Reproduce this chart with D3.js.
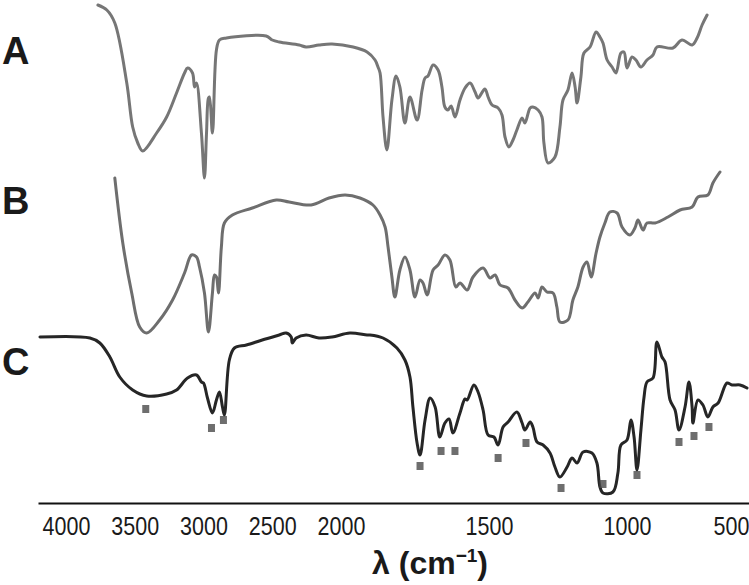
<!DOCTYPE html>
<html>
<head>
<meta charset="utf-8">
<script src="https://cdn.jsdelivr.net/npm/d3@7"></script>
<style>
  body { margin: 0; background: #fff; }
  svg { display: block; font-family: "Liberation Sans", Arial, sans-serif; }
</style>
</head>
<body>
<svg id="root" width="749" height="585"></svg>
<script>
// wavenumber (cm-1) and offset transmittance (a.u.)
const wnA = [3768,3703,3645,3558,3515,3478,3442,3341,3268,3196,3138,3116,3080,3065,3051,3015,2993,2978,2964,2957,2935,2906,2884,2833,2544,2500,2449,2304,2254,2160,2065,
  1959,1912,1885,1875,1868,1858,1845,1828,1814,1801,1784,1767,1743,1726,1716,1706,1689,1672,1659,1649,1639,1628,1615,1598,1581,1564,1547,1537,1514,1503,
  1489,1467,1453,1442,1428,1413,1399,1380,1370,1351,1341,1322,1308,1301,1286,1261,1243,1232,1214,1199,1188,1181,1167,1156,1134,1112,1098,1087,1072,1054,1040,1022,1011,
  1000,976,957,933,904,875,856,779,736,687,663,639,615];
const tA = [99.0,98.0,95.4,83.4,74.6,71.4,69.8,73.4,76.6,81.4,85.4,86.4,85.4,82.6,83.4,73.4,64.4,73.4,80.4,80.6,73.4,90.0,92.0,92.4,92.8,92.0,91.6,91.0,90.6,91.0,91.2,
  90.6,89.6,88.0,86.6,85.4,76.6,70.0,80.0,84.8,82.6,75.4,80.6,76.0,82.0,84.4,84.8,87.0,86.0,82.6,78.6,78.0,78.8,76.6,80.0,82.4,83.4,81.6,80.4,82.2,80.6,
  79.0,78.4,77.0,72.6,70.6,72.0,74.0,76.4,75.4,78.4,78.6,78.0,76.6,71.4,67.4,68.6,74.6,80.0,82.0,85.4,82.6,79.4,84.6,89.4,90.6,93.6,92.6,91.4,88.0,86.6,85.4,89.4,89.6,
  86.4,88.6,88.0,86.6,88.0,89.0,90.6,90.4,92.0,91.0,92.4,95.0,97.0];

const wnB = [3645,3587,3522,3464,3413,3319,3225,3138,3087,3051,3029,2993,2964,2935,2920,2906,2891,2870,2848,2790,2645,2471,2377,2217,2087,
  1986,1936,1892,1868,1851,1841,1828,1818,1801,1784,1767,1750,1733,1723,1709,1689,1672,1649,1632,1612,1598,1574,1554,1520,
  1496,1478,1460,1431,1406,1380,1359,1333,1322,1308,1290,1268,1254,1243,1214,1196,1178,1159,1145,1130,1112,1098,1080,1062,1036,1018,
  986,962,947,923,904,865,803,745,687,659,611,587,553];
const tB = [64.4,51.4,41.4,34.6,33.4,36.0,40.0,45.4,49.0,48.6,46.6,41.4,33.6,41.4,45.0,44.6,41.4,50.6,55.4,57.0,58.4,60.0,59.6,59.0,60.4,
  61.0,60.4,59.0,57.0,54.6,50.6,44.6,40.6,46.0,48.6,46.0,40.6,44.0,43.4,41.0,46.0,47.0,49.0,48.0,42.6,43.4,42.0,44.6,46.4,
  44.4,45.0,43.0,42.4,40.0,38.4,39.6,41.4,40.4,42.6,41.6,41.4,38.6,35.6,36.0,40.0,42.6,46.6,47.6,44.6,49.4,52.6,55.4,57.6,57.4,54.6,
  53.0,54.4,56.0,54.0,55.4,55.4,56.6,58.0,58.6,60.6,61.0,63.4,65.6];

const wnC = [4186,3826,3754,3681,3609,3515,3413,3268,3196,3116,3051,3015,3000,2971,2935,2906,2884,2862,2848,2812,2775,2688,2573,2449,2399,2362,2355,2326,2254,2160,2065,
  1970,1912,1902,1858,1811,1784,1767,1757,1743,1733,1716,1699,1682,1666,1649,1635,1622,1598,1581,1574,1551,1537,1520,1503,
  1482,1467,1449,1431,1399,1380,1370,1351,1341,1326,1304,1279,1261,1243,1217,1199,1181,1159,1127,1109,1098,1087,1051,1033,1022,
  1000,981,966,952,933,918,904,875,856,832,817,793,769,750,721,702,687,683,659,635,611,587,562,519,495,455,420];
const tC = [32.6,32.4,31.4,28.6,24.6,22.0,20.8,21.2,22.0,24.4,25.0,23.6,23.4,20.4,17.4,20.0,21.6,18.6,17.0,28.0,30.4,31.0,32.0,33.0,33.4,32.6,31.4,32.4,33.0,32.4,32.6,
  33.4,33.0,33.0,32.4,30.4,28.0,24.6,18.6,11.4,9.0,16.0,20.4,18.6,12.6,15.4,16.2,13.4,17.4,20.2,20.0,23.0,21.6,18.0,13.0,
  12.6,11.0,14.6,15.6,17.6,15.4,14.0,15.6,14.6,11.6,11.0,9.4,6.6,4.6,6.6,8.4,7.4,9.6,9.4,7.4,2.6,1.4,1.6,5.4,11.0,
  12.0,16.0,12.6,6.0,14.0,20.6,23.6,24.4,31.6,28.6,27.6,20.0,18.0,14.0,18.6,23.6,18.6,15.4,20.0,19.0,16.6,18.6,19.4,23.4,23.0,23.0,22.4];

// peak markers on trace C
const markWn = [3420,2942,2855,1733,1662,1615,1467,1366,1239,1087,952,750,678,606];
const markT = [18.2,14.4,16.0,6.8,9.8,9.8,8.4,11.4,2.4,3.2,5.0,11.6,12.8,14.6];

const seriesNames = ['A', 'B', 'C'];
const labelT = [90, 60, 27.8];
const xTicks = [4000, 3500, 3000, 2500, 2000, 1500, 1000, 500];

const svg = d3.select('#root');

// broken wavenumber axis: expanded below 2000
const x = d3.scaleLinear()
  .domain([4200, 4000, 2000, 1500, 1000, 500, 410])
  .range([38, 66, 341, 489, 627, 731, 749]);
const y = d3.scaleLinear().domain([0, 100]).range([500, 0]);

const line = d3.line()
  .x(d => x(d[0]))
  .y(d => y(d[1]))
  .curve(d3.curveCatmullRom.alpha(0.5));

const traces = [
  { wn: wnA, t: tA, color: '#767676' },
  { wn: wnB, t: tB, color: '#6e6e6e' },
  { wn: wnC, t: tC, color: '#262626' }
];

svg.selectAll('path.trace')
  .data(traces)
  .enter()
  .append('path')
  .attr('class', 'trace')
  .attr('fill', 'none')
  .attr('stroke', d => d.color)
  .attr('stroke-width', 3)
  .attr('stroke-linejoin', 'round')
  .attr('stroke-linecap', 'round')
  .attr('d', d => line(d3.zip(d.wn, d.t)));

svg.selectAll('rect.mark')
  .data(d3.zip(markWn, markT))
  .enter()
  .append('rect')
  .attr('class', 'mark')
  .attr('x', d => x(d[0]) - 3.5)
  .attr('y', d => y(d[1]) - 4)
  .attr('width', 7)
  .attr('height', 8)
  .attr('fill', '#4a4a4a')
  .attr('opacity', 0.8);

// series letters
svg.selectAll('text.name')
  .data(seriesNames)
  .enter()
  .append('text')
  .attr('class', 'name')
  .attr('x', 2)
  .attr('y', (d, i) => y(labelT[i]) + 14)
  .attr('font-size', 38)
  .attr('font-weight', 'bold')
  .attr('fill', '#1a1a1a')
  .text(d => d);

const axis = svg.append('g')
  .attr('transform', 'translate(0,503)')
  .call(d3.axisBottom(x).tickValues(xTicks).tickSize(0).tickPadding(14).tickFormat(d3.format('d')));
axis.select('.domain').attr('stroke', '#111').attr('stroke-width', 2);
axis.selectAll('text')
  .attr('font-size', 25)
  .attr('font-family', '"Liberation Sans", Arial, sans-serif')
  .attr('fill', '#1a1a1a')
  .attr('transform', 'scale(0.86,1)');

const title = svg.append('text')
  .attr('x', 430)
  .attr('y', 574)
  .attr('text-anchor', 'middle')
  .attr('font-size', 32)
  .attr('font-weight', 'bold')
  .attr('fill', '#1a1a1a');
title.append('tspan').text('λ (cm');
title.append('tspan').attr('font-size', 19).attr('dy', -12).text('−1');
title.append('tspan').attr('dy', 12).text(')');
</script>
</body>
</html>
